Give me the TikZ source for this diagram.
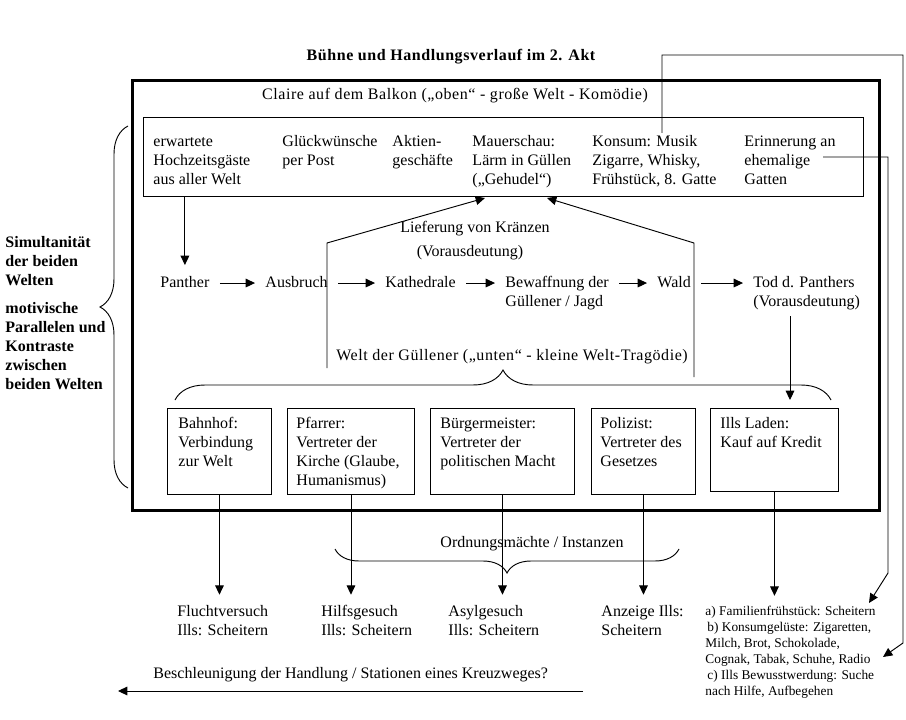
\documentclass[tikz,border=0pt]{standalone}
\usepackage{fontspec}
\setmainfont{Liberation Serif}
\newfontfamily\weit[LetterSpace=3.5]{Liberation Serif}
\usetikzlibrary{arrows.meta}
\usetikzlibrary{decorations.pathreplacing}

\tikzset{
  txt/.style={anchor=north west, yshift=9.975pt, inner sep=0pt, align=left,
    font=\fontsize{12}{14.25}\selectfont},
  mitte/.style={anchor=base, inner sep=0pt, font=\fontsize{12}{14.25}\selectfont},
  fett/.style={txt, font=\fontsize{12}{14.25}\selectfont\bfseries},
  klein/.style={txt, yshift=-1.575pt, font=\fontsize{10}{12}\selectfont},
  kasten/.style={draw, anchor=north west, inner sep=0pt},
  pfeil/.style={-{Triangle[length=7pt,width=6.5pt]}},
  klammer/.style={decorate, decoration={brace, amplitude=#1}}
}

\begin{document}
\begin{tikzpicture}[x=0.75pt, y=-0.75pt, line width=0.7pt]
\useasboundingbox (0,0) rectangle (906,720);

\node[mitte, font=\fontsize{12}{14.25}\selectfont\bfseries] (titel) at (451,61) {\weit Bühne und Handlungsverlauf im 2. Akt};
\node[kasten, line width=2.25pt, minimum width=560.25pt, minimum height=322.5pt] (buehne) at (131,79) {};
\node[mitte] (claire) at (455,100) {\weit Claire auf dem Balkon („oben“ - große Welt - Komödie)};

\node[kasten, minimum width=540pt, minimum height=59.25pt] (oben) at (143,117) {};
\node[txt] (gaeste) at (153,146) {\strut erwartete\\Hochzeitsgäste\\aus aller Welt};
\node[txt] (post) at (282,146) {\strut Glückwünsche\\per Post};
\node[txt] (aktien) at (392,146) {\strut Aktien-\\geschäfte};
\node[txt] (mauer) at (472,146) {\strut Mauerschau:\\Lärm in Güllen\\(„Gehudel“)};
\node[txt] (konsum) at (592,146) {\strut Konsum: Musik\\Zigarre, Whisky,\\Frühstück, 8. Gatte};
\node[txt] (erinnerung) at (744,146) {\strut Erinnerung an\\ehemalige\\Gatten};

\node[mitte] (kraenze) at (475,233) {Lieferung von Kränzen};
\node[mitte] (kraenzevor) at (470,257) {(Vorausdeutung)};

\node[txt] (panther) at (160,287) {\strut Panther};
\node[txt] (ausbruch) at (265,287) {\strut Ausbruch};
\node[txt] (kathedrale) at (385,287) {\strut Kathedrale};
\node[txt] (bewaffnung) at (505,287) {\strut Bewaffnung der\\Güllener / Jagd};
\node[txt] (wald) at (657,287) {\strut Wald};
\node[txt] (tod) at (753,287) {\strut Tod d. Panthers\\(Vorausdeutung)};

\node[mitte] (unten) at (512,360) {\weit Welt der Güllener („unten“ - kleine Welt-Tragödie)};

\node[kasten, minimum width=78pt, minimum height=64.5pt] (bahnhofK) at (167,408) {};
\node[kasten, minimum width=95.25pt, minimum height=64.5pt] (pfarrerK) at (287,408) {};
\node[kasten, minimum width=108pt, minimum height=64.5pt] (bgmK) at (430,408) {};
\node[kasten, minimum width=78pt, minimum height=64.5pt] (polizistK) at (591,408) {};
\node[kasten, minimum width=96pt, minimum height=62.25pt] (illsK) at (710,408) {};
\node[txt] (bahnhof) at (178,428) {\strut Bahnhof:\\Verbindung\\zur Welt};
\node[txt] (pfarrer) at (296,428) {\strut Pfarrer:\\Vertreter der\\Kirche (Glaube,\\Humanismus)};
\node[txt] (bgm) at (440,428) {\strut Bürgermeister:\\Vertreter der\\politischen Macht};
\node[txt] (polizist) at (600,428) {\strut Polizist:\\Vertreter des\\Gesetzes};
\node[txt] (ills) at (720,428) {\strut Ills Laden:\\Kauf auf Kredit};

\node[mitte] (instanzen) at (532,547) {Ordnungsmächte / Instanzen};
\node[txt] (flucht) at (177,616) {\strut Fluchtversuch\\Ills: Scheitern};
\node[txt] (hilfe) at (321,616) {\strut Hilfsgesuch\\Ills: Scheitern};
\node[txt] (asyl) at (448,616) {\strut Asylgesuch\\Ills: Scheitern};
\node[txt] (anzeige) at (601,616) {\strut Anzeige Ills:\\Scheitern};
\node[klein] (folgen) at (705,615) {\strut a) Familienfrühstück: Scheitern\\
  \hspace{1.5pt}b) Konsumgelüste: Zigaretten,\\Milch, Brot, Schokolade,\\Cognak, Tabak, Schuhe, Radio\\
  \hspace{1.5pt}c) Ills Bewusstwerdung: Suche\\nach Hilfe, Aufbegehen};
\node[txt] (kreuzweg) at (153,678) {\strut Beschleunigung der Handlung / Stationen eines Kreuzweges?};

\node[fett] (simultan) at (5,247) {\strut Simultanität\\der beiden\\Welten};
\node[fett] (motive) at (5,313) {\strut motivische\\Parallelen und\\Kontraste\\zwischen\\beiden Welten};

\draw[klammer=21pt] (128,488) -- (128,126);
\draw[klammer=22.5pt] (175,400) -- (831,400);
\draw[klammer=18pt] (679,549) -- (335,549);

\draw[pfeil, shorten >=6.5pt] (panther.north |- oben.south) -- (panther.north);
\foreach \a/\b in {panther/ausbruch, ausbruch/kathedrale, kathedrale/bewaffnung, bewaffnung/wald, wald/tod}
  \draw[pfeil, shorten <=7.5pt, shorten >=7.5pt] ([yshift=-7pt]\a.north east) -- ([yshift=-7pt]\b.north west);

\coordinate (l0) at (327,368);
\coordinate (l1) at (327,243);
\coordinate (l2) at (485,198);
\coordinate (r0) at (694,377);
\coordinate (r1) at (694,243);
\coordinate (r2) at (547,198);
\draw[pfeil] (l0) -- (l1) -- (l2);
\draw[pfeil] (r0) -- (r1) -- (r2);

\coordinate (t0) at (790,316);
\draw[pfeil, shorten >=6pt] (t0) -- (t0 |- illsK.north);

\foreach \k/\z in {bahnhofK/flucht, pfarrerK/hilfe, bgmK/asyl, polizistK/anzeige, illsK/folgen}
  \draw[pfeil, shorten >=6pt] (\k.south) -- (\k.south |- \z.north);

\coordinate (k0) at (662,133);
\coordinate (k1) at (662,55);
\coordinate (k2) at (903,55);
\coordinate (k3) at (903,643);
\coordinate (radio) at (883,657);
\draw[pfeil] (k0) -- (k1) -- (k2) -- (k3) -- (radio);

\coordinate (e0) at (823,157);
\coordinate (e1) at (888,157);
\coordinate (e2) at (888,573);
\coordinate (scheitern) at (869,603);
\draw[pfeil] (e0) -- (e1) -- (e2) -- (scheitern);

\coordinate (b0) at (583,691);
\coordinate (b1) at (118,691);
\draw[pfeil] (b0) -- (b1);
\end{tikzpicture}
\end{document}
